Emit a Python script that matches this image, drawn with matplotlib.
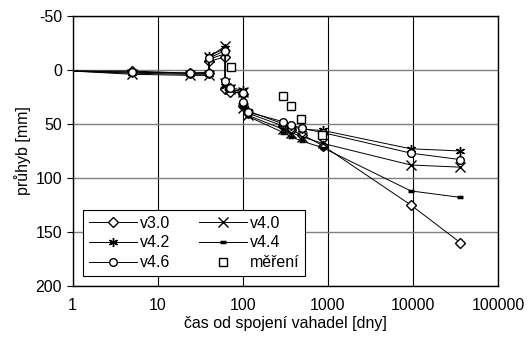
import matplotlib.pyplot as plt

plt.rcParams['font.family'] = ['Liberation Sans', 'DejaVu Sans']
plt.rcParams['axes.unicode_minus'] = False

# time [days] shared by all model versions
t = [1, 5, 24, 40, 40, 62, 62, 70, 100, 100, 115, 300, 370, 500, 870, 9400, 36000]

v30 = [1, 1, 3, 3, -8, -12, 18, 20, 22, 33, 40, 52, 56, 60, 70, 125, 160]
v40 = [1, 4, 5, 5, -12, -22, 12, 18, 20, 35, 42, 55, 58, 62, 68, 88, 90]
v42 = [1, 3, 4, 4, -13, -20, 15, 16, 19, 32, 38, 50, 52, 55, 56, 73, 75]
v44 = [1, 2, 3, 2, -10, -15, 14, 19, 22, 34, 43, 58, 62, 66, 72, 112, 118]
v46 = [1, 2, 3, 3, -11, -18, 10, 17, 21, 30, 39, 48, 51, 54, 58, 77, 83]

t_meas = [72, 297, 370, 487, 850]
v_meas = [-3, 24, 33, 45, 60]

fig = plt.figure(figsize=(5.28, 3.40), dpi=100)
ax = fig.add_axes([0.1375, 0.159, 0.806, 0.794])

lw = 0.7
me = slice(1, None)  # no marker at the first point (t = 1)
h30, = ax.plot(t, v30, color='black', lw=lw, marker='D', ms=5, mfc='white', mew=1.0, markevery=me, label='v3.0')
h40, = ax.plot(t, v40, color='black', lw=lw, marker='x', ms=6.5, mew=1.0, markevery=me, label='v4.0')
h42, = ax.plot(t, v42, color='black', lw=lw, marker=(6, 2, 0), ms=6.5, mew=1.0, markevery=me, label='v4.2')
h44, = ax.plot(t, v44, color='black', lw=lw, marker='_', ms=4.5, mew=2.5, markevery=me, label='v4.4')
h46, = ax.plot(t, v46, color='black', lw=lw, marker='o', ms=5.5, mfc='white', mew=1.0, markevery=me, label='v4.6')
hm, = ax.plot(t_meas, v_meas, ls='none', marker='s', ms=6, mfc='white', mec='black', mew=1.0, label='měření')

ax.set_xscale('log')
ax.set_xlim(1, 100000)
ax.set_ylim(200, -50)
ax.set_yticks([-50, 0, 50, 100, 150, 200])
ax.set_xticks([1, 10, 100, 1000, 10000, 100000])
ax.set_xticklabels(['1', '10', '100', '1000', '10000', '100000'])
ax.minorticks_off()
ax.tick_params(axis='x', length=0, pad=9, labelsize=11.5)
ax.tick_params(axis='y', length=4, width=0.8, direction='out', labelsize=11.5)

ax.grid(axis='y', color='#808080', lw=1.0)
ax.grid(axis='x', color='black', lw=0.8)
ax.set_axisbelow(True)
for s in ax.spines.values():
    s.set_color('black')
    s.set_linewidth(1.0)

ax.set_xlabel('čas od spojení vahadel [dny]', fontsize=11.5, labelpad=2)
ax.set_ylabel('průhyb [mm]', fontsize=11.5, labelpad=3)

leg = ax.legend(handles=[h30, h42, h46, h40, h44, hm], ncol=2, loc='lower left',
                bbox_to_anchor=(0.025, 0.038), fontsize=11.5, frameon=True, fancybox=False,
                edgecolor='black', framealpha=1, handlelength=3.0, columnspacing=1.8,
                borderpad=0.35, labelspacing=0.3, handletextpad=0.2, borderaxespad=0)
leg.get_frame().set_linewidth(0.8)

fig.savefig('out.png', dpi=100)
